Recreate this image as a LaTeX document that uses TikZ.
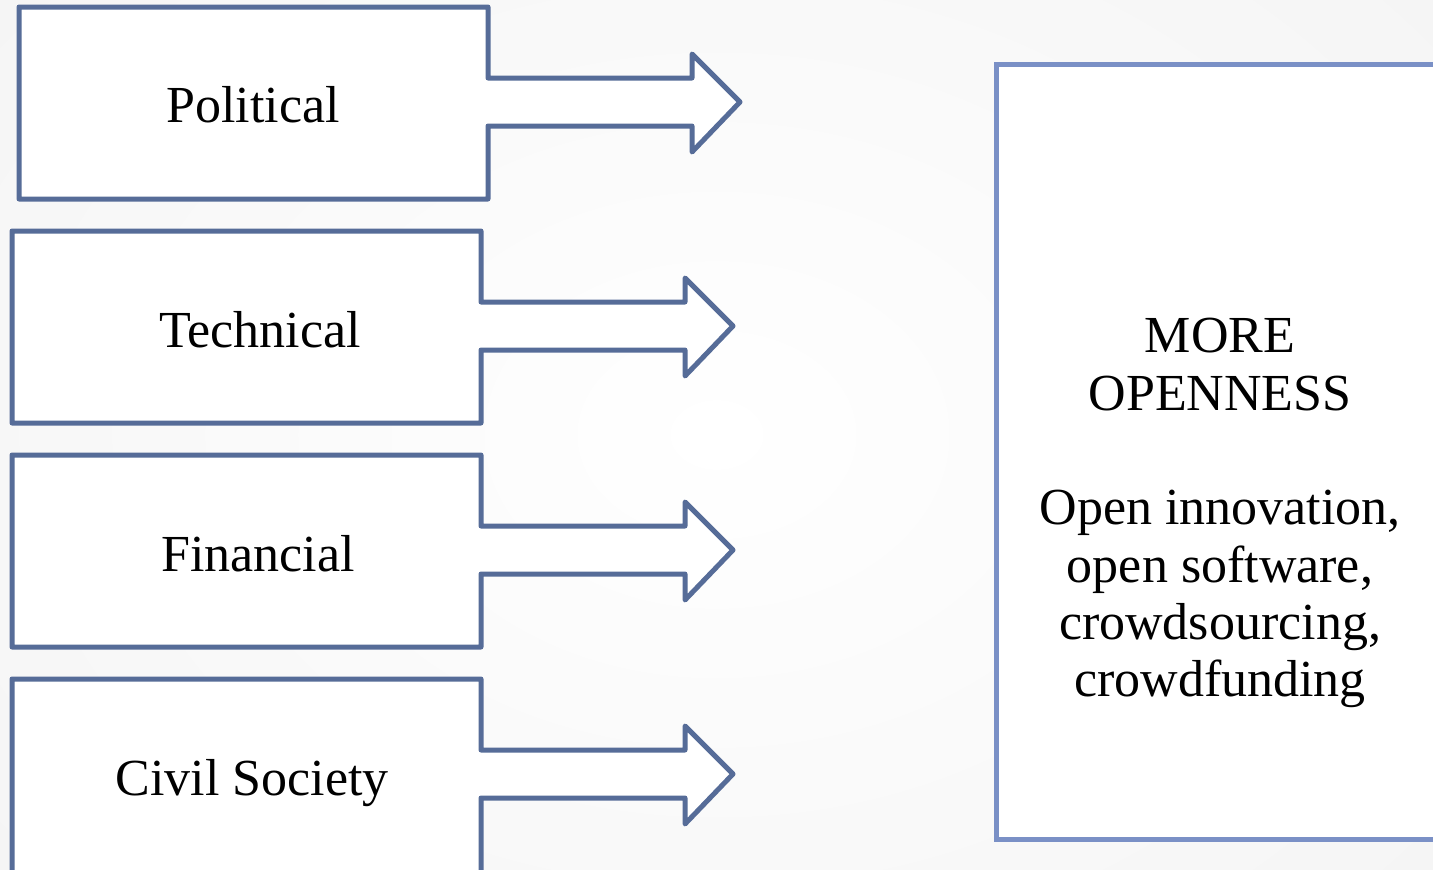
\documentclass[tikz,border=0pt]{standalone}
\usepackage{fontspec}
\setmainfont{Liberation Serif}
\definecolor{leftblue}{HTML}{566C98}
\definecolor{rightblue}{HTML}{7A90C6}
\definecolor{bgedge}{HTML}{F3F3F3}
\tikzset{
  arrowbox/.style={draw=leftblue, line width=3.75pt, line join=round, fill=white},
  bigbox/.style={draw=rightblue, line width=3.75pt, line join=miter, fill=white},
  lbl/.style={inner sep=0pt, font=\fontsize{39}{43}\selectfont},
}
\begin{document}
\begin{tikzpicture}[x=0.75pt,y=-0.75pt]
\useasboundingbox (0,0) rectangle (1433,869);
\clip (0,0) rectangle (1433,869);
\shade[inner color=white, outer color=bgedge] (-400,-400) rectangle (1833,1269);
% Political
\draw[arrowbox] (19,7) -- (488,7) -- (488,78) -- (692,78) -- (692,54) -- (740,102)
  -- (692,152) -- (692,126) -- (488,126) -- (488,199) -- (19,199) -- cycle;
% Technical
\draw[arrowbox] (12,231) -- (481,231) -- (481,302) -- (685,302) -- (685,278) -- (733,326)
  -- (685,376) -- (685,350) -- (481,350) -- (481,423) -- (12,423) -- cycle;
% Financial
\draw[arrowbox] (12,455) -- (481,455) -- (481,526) -- (685,526) -- (685,502) -- (733,550)
  -- (685,600) -- (685,574) -- (481,574) -- (481,647) -- (12,647) -- cycle;
% Civil Society
\draw[arrowbox] (12,679) -- (481,679) -- (481,750) -- (685,750) -- (685,726) -- (733,774)
  -- (685,824) -- (685,798) -- (481,798) -- (481,900) -- (12,900) -- cycle;
% Right box
\draw[bigbox] (996,64) rectangle (1460,839);
\node[lbl, anchor=base] (political) at (253,122) {Political};
\node[lbl, anchor=base] (technical) at (260,347) {Technical};
\node[lbl, anchor=base] (financial) at (258,571) {Financial};
\node[lbl, anchor=base] (civil) at (252,795) {Civil Society};
\node[lbl, anchor=north, align=center] (openness) at (1220,318)
  {MORE\\OPENNESS\\[43pt]Open innovation,\\open software,\\crowdsourcing,\\crowdfunding};
\end{tikzpicture}
\end{document}
